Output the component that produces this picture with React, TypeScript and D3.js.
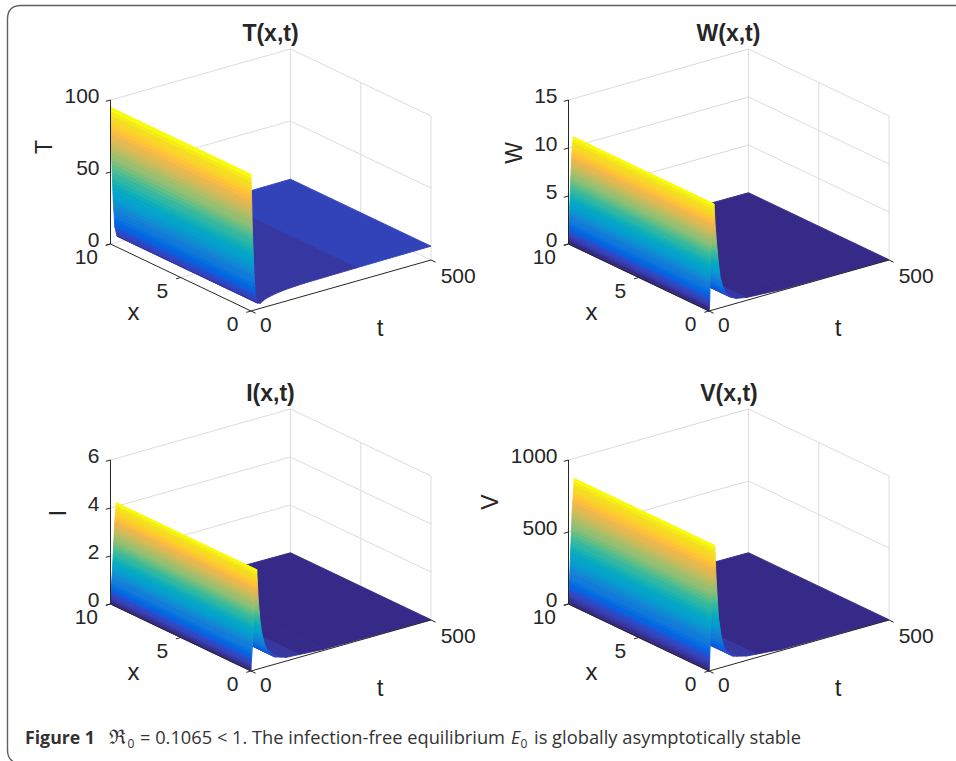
import React from "react";
import * as d3 from "d3";

const parula: number[][] = [
[.2081,.1663,.5292],[.2116,.1898,.5777],[.2123,.2138,.6270],[.2081,.2386,.6771],[.1959,.2645,.7279],[.1707,.2919,.7792],[.1253,.3242,.8303],[.0591,.3598,.8683],
[.0117,.3875,.8820],[.0060,.4086,.8828],[.0165,.4266,.8786],[.0329,.4430,.8720],[.0498,.4586,.8641],[.0629,.4737,.8554],[.0723,.4887,.8467],[.0779,.5040,.8384],
[.0793,.5200,.8312],[.0749,.5375,.8263],[.0641,.5570,.8240],[.0488,.5772,.8228],[.0343,.5966,.8199],[.0265,.6137,.8135],[.0239,.6287,.8038],[.0231,.6418,.7913],
[.0228,.6535,.7768],[.0267,.6642,.7607],[.0384,.6743,.7436],[.0590,.6838,.7254],[.0843,.6928,.7062],[.1133,.7015,.6859],[.1453,.7098,.6646],[.1801,.7177,.6424],
[.2178,.7250,.6193],[.2586,.7317,.5954],[.3022,.7376,.5712],[.3482,.7424,.5473],[.3953,.7459,.5244],[.4420,.7481,.5033],[.4871,.7491,.4840],[.5300,.7491,.4661],
[.5709,.7485,.4494],[.6099,.7473,.4337],[.6473,.7456,.4188],[.6834,.7435,.4044],[.7184,.7411,.3905],[.7525,.7384,.3768],[.7858,.7356,.3633],[.8185,.7327,.3498],
[.8507,.7299,.3360],[.8824,.7274,.3217],[.9139,.7258,.3063],[.9450,.7261,.2886],[.9739,.7314,.2666],[.9938,.7455,.2403],[.9990,.7653,.2164],[.9955,.7861,.1967],
[.9880,.8066,.1794],[.9789,.8271,.1633],[.9697,.8481,.1475],[.9626,.8705,.1309],[.9589,.8949,.1132],[.9598,.9218,.0948],[.9661,.9514,.0755],[.9763,.9831,.0538]];

const tTimes = [0, 3.6, 7.5, 12, 18, 26, 34, 44, 70, 100, 150, 294, 500];
const tValues = [95, 58, 30, 11, 4.2, 3.6, 4.8, 5.9, 7.3, 8.2, 8.8, 9.2, 9.6];
const tFlatShades = [[26, 294, 3], [294, 500, 7]];
const tZTicks = [0, 50, 100];

const wTimes = [0, 1, 2, 3.6, 6, 8.3, 11, 14, 17, 21, 26, 31, 38, 45, 60, 77, 105, 200, 500];
const wValues = [0, 0.3, 1, 3.8, 6.5, 8.6, 10.4, 11, 8.8, 6.8, 4.8, 3.2, 2.2, 1.5, 0.8, 0.5, 0.3, 0.1, 0.03];
const wZTicks = [0, 5, 10, 15];

const iTimes = [0, 0.5, 2, 5.5, 11, 16, 20, 25, 30, 37, 44, 55, 67, 99, 200, 500];
const iValues = [0, 0.3, 0.6, 1.4, 3.2, 4.15, 2.9, 2.0, 1.45, 1.0, 0.72, 0.45, 0.3, 0.15, 0.05, 0.01];
const iZTicks = [0, 2, 4, 6];

const vTimes = [0, 0.5, 2, 4, 7, 10, 16, 19.5, 26, 33, 40, 50, 67.5, 105, 200, 500];
const vValues = [0, 5, 90, 233, 430, 623, 860, 640, 360, 230, 150, 90, 55, 30, 8, 2];
const vZTicks = [0, 500, 1000];

const xTicks = [0, 5, 10];
const timeTicks = [0, 500];

const FONT = "'Liberation Sans', Arial, sans-serif";
const BANDS = 36;
const inkColor = "#262626";
const gridColor = "#dcdcdc";

function colorOf(v: number, cmax: number) {
  const band = Math.min(BANDS - 1, Math.max(0, Math.floor((v / cmax) * BANDS)));
  const c = parula[Math.round((band / (BANDS - 1)) * 63)];
  return d3.rgb(c[0] * 255, c[1] * 255, c[2] * 255).formatHex();
}

type PanelProps = {
  title: string; zLabel: string; dx: number; dy: number; zMax: number;
  times: number[]; values: number[]; zTicks: number[]; flats?: number[][]; zLabelX: number; zLabelY: number; titleX: number;
};

function Panel({ title, zLabel, dx, dy, zMax, times, values, zTicks, flats = [], zLabelX, zLabelY, titleX }: PanelProps) {
  const tS = d3.scaleLinear().domain([0, 500]).range([0, 1]);
  const xS = d3.scaleLinear().domain([0, 10]).range([0, 1]);
  const zS = d3.scaleLinear().domain([0, zMax]).range([0, 144]);
  const ox = 251 + dx, oy = 311 + dy;
  const P = (t: number, x: number, z: number): [number, number] => [
    ox + 180 * tS(t) - 140.5 * xS(x),
    oy - 51 * tS(t) - 67 * xS(x) - zS(z),
  ];
  const line = d3.line();
  const seg = (a: [number, number], b: [number, number]) => line([a, b]) as string;
  const cmax = d3.max(values) as number;

  // Back-to-front list of facets
  const facets: { d: string; fill: string }[] = [];
  for (let i = times.length - 2; i >= 0; i--) {
    const t0 = times[i], t1 = times[i + 1], z0 = values[i], z1 = values[i + 1];
    const flat = flats.find((f) => t0 >= f[0] && t1 <= f[1]);
    const cuts: number[] = [0];
    if (!flat) {
      const lo = Math.min(z0, z1), hi = Math.max(z0, z1);
      const levels = d3.range(1, BANDS).map((k) => (k / BANDS) * cmax).filter((l) => l > lo && l < hi);
      levels.forEach((l) => cuts.push((l - z0) / (z1 - z0)));
      cuts.sort((a, b) => a - b);
    }
    cuts.push(1);
    for (let j = cuts.length - 2; j >= 0; j--) {
      const a = cuts[j], b = cuts[j + 1];
      const ta = t0 + a * (t1 - t0), tb = t0 + b * (t1 - t0);
      const za = z0 + a * (z1 - z0), zb = z0 + b * (z1 - z0);
      const d = (line([P(ta, 0, za), P(tb, 0, zb), P(tb, 10, zb), P(ta, 10, za)]) as string) + "Z";
      facets.push({ d, fill: colorOf(flat ? flat[2] : (za + zb) / 2, cmax) });
    }
  }

  return (
    <g>
      <text x={titleX} y={41 + dy} textAnchor="middle" fontFamily={FONT} fontWeight="bold" fontSize={23} fill={inkColor}>{title}</text>
      {/* walls and grid */}
      <g stroke={gridColor} strokeWidth={1} fill="none">
        {zTicks.map((z) => (
          <g key={z}>
            <path d={seg(P(0, 10, z), P(500, 10, z))} />
            <path d={seg(P(500, 10, z), P(500, 0, z))} />
          </g>
        ))}
        <path d={seg(P(500, 10, 0), P(500, 10, zMax))} />
        <path d={seg(P(500, 0, 0), P(500, 0, zMax))} />
        <path d={seg(P(500, 5, 0), P(500, 5, zMax))} />
        <path d={seg(P(0, 5, 0), P(500, 5, 0))} />
      </g>
      {/* surface */}
      <g>
        {facets.map((f, i) => (
          <path key={i} d={f.d} fill={f.fill} stroke={f.fill} strokeWidth={0.9} strokeLinejoin="round" />
        ))}
      </g>
      {/* axes */}
      <g stroke="#262626" strokeWidth={1} fill="none">
        <path d={seg(P(0, 10, 0), P(0, 10, zMax))} />
        <path d={seg(P(0, 10, 0), P(0, 0, 0))} />
        <path d={seg(P(0, 0, 0), P(500, 0, 0))} />
        {zTicks.map((z) => <path key={z} d={seg(P(0, 10, z), P(-13, 10, z))} />)}
        {xTicks.map((x) => <path key={x} d={seg(P(0, x, 0), P(-13, x, 0))} />)}
        {timeTicks.map((t) => <path key={t} d={seg(P(t, 0, 0), P(t, -0.33, 0))} />)}
      </g>
      {/* labels */}
      <g fontFamily={FONT} fontSize={21} fill={inkColor}>
        {zTicks.map((z) => (
          <text key={z} x={99.5 + dx} y={P(0, 10, z)[1] + 2.5} textAnchor="end">{z}</text>
        ))}
        {xTicks.map((x) => (
          <text key={x} x={P(0, x, 0)[0] - 12.5} y={P(0, x, 0)[1] + 20} textAnchor="end">{x}</text>
        ))}
        <text x={260 + dx} y={332 + dy}>{timeTicks[0]}</text>
        <text x={440.7 + dx} y={282.5 + dy}>{timeTicks[1]}</text>
        <text x={133.5 + dx} y={319.5 + dy} textAnchor="middle" fontSize={24}>x</text>
        <text x={380 + dx} y={335.5 + dy} textAnchor="middle" fontSize={24}>t</text>
        <text transform={`translate(${zLabelX},${zLabelY}) rotate(-90)`} textAnchor="middle" fontSize={23}>{zLabel}</text>
      </g>
    </g>
  );
}

export default function App() {
  return (
    <svg width={956} height={761} viewBox="0 0 956 761" style={{ position: "absolute", left: 0, top: 0, background: "#fff" }}>
      <path d="M956,5.5 H21 Q7.5,5.5 7.5,19 V750 Q7.5,760 16,763" fill="none" stroke="#5f5f5f" strokeWidth={1.4} />
      <Panel title="T(x,t)" zLabel="T" dx={0} dy={0} zMax={100} times={tTimes} values={tValues} flats={tFlatShades} zTicks={tZTicks} zLabelX={52} zLabelY={147} titleX={270.5} />
      <Panel title="W(x,t)" zLabel="W" dx={458} dy={0} zMax={15} times={wTimes} values={wValues} zTicks={wZTicks} zLabelX={522} zLabelY={153} titleX={728.5} />
      <Panel title="I(x,t)" zLabel="I" dx={0} dy={360} zMax={6} times={iTimes} values={iValues} zTicks={iZTicks} zLabelX={66} zLabelY={513} titleX={270.5} />
      <Panel title="V(x,t)" zLabel="V" dx={458} dy={360} zMax={1000} times={vTimes} values={vValues} zTicks={vZTicks} zLabelX={498} zLabelY={502} titleX={729} />
      <g fontFamily="'Open Sans', 'Noto Sans', sans-serif" fontSize={17.5} fill="#333">
        <text x={25} y={744} fontWeight="bold" textLength={70} lengthAdjust="spacingAndGlyphs">Figure 1</text>
        <text x={109} y={744} fontFamily="'DejaVu Serif', serif" fontSize={20}>ℜ</text>
        <text x={127.5} y={748} fontSize={12}>0</text>
        <text x={140} y={744} textLength={365} lengthAdjust="spacingAndGlyphs">= 0.1065 &lt; 1. The infection-free equilibrium</text>
        <text x={511} y={744} fontStyle="italic">E</text>
        <text x={520.5} y={748} fontSize={12}>0</text>
        <text x={534} y={744} textLength={267} lengthAdjust="spacingAndGlyphs">is globally asymptotically stable</text>
      </g>
    </svg>
  );
}
